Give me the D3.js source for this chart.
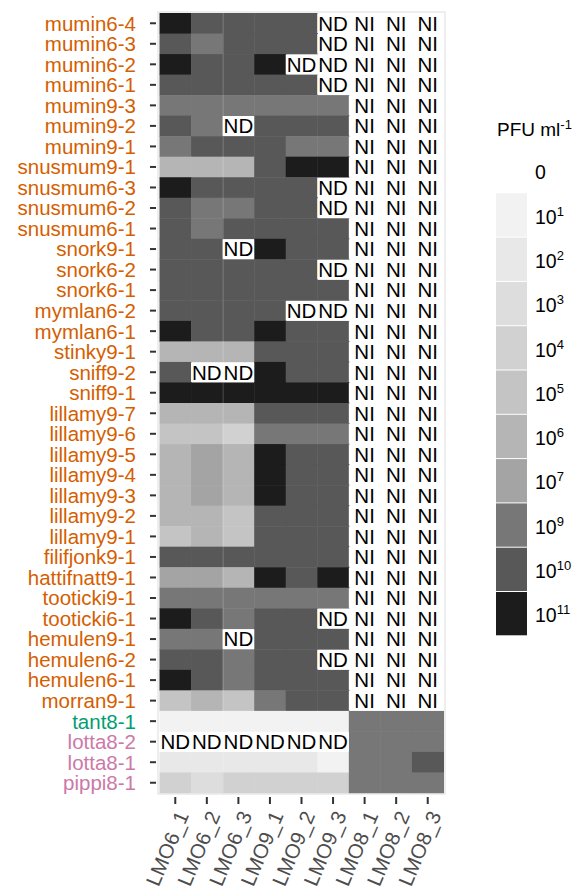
<!DOCTYPE html>
<html><head><meta charset="utf-8">
<script src="https://cdn.jsdelivr.net/npm/d3@7"></script>
<style>
html,body{margin:0;padding:0;background:#fff;}
text{font-family:"Liberation Sans",Arial,Helvetica,sans-serif;}
</style></head>
<body>
<svg id="chart" width="579" height="891"></svg>
<script>
// ---------- data ----------
const strains = ["mumin6-4","mumin6-3","mumin6-2","mumin6-1","mumin9-3","mumin9-2","mumin9-1",
 "snusmum9-1","snusmum6-3","snusmum6-2","snusmum6-1","snork9-1","snork6-2","snork6-1",
 "mymlan6-2","mymlan6-1","stinky9-1","sniff9-2","sniff9-1","lillamy9-7","lillamy9-6",
 "lillamy9-5","lillamy9-4","lillamy9-3","lillamy9-2","lillamy9-1","filifjonk9-1",
 "hattifnatt9-1","tooticki9-1","tooticki6-1","hemulen9-1","hemulen6-2","hemulen6-1",
 "morran9-1","tant8-1","lotta8-2","lotta8-1","pippi8-1"];
const samples = ["LMO6_1","LMO6_2","LMO6_3","LMO9_1","LMO9_2","LMO9_3","LMO8_1","LMO8_2","LMO8_3"];
// values = exponent of PFU ml-1 (log10), ND = not detected, NI = not infective
const lmo6 = [
 ["11","10","10"],["10","9","10"],["11","10","10"],["10","10","10"],["9","9","9"],
 ["10","9","ND"],["9","10","10"],["6","6","6"],["11","10","10"],["10","9","9"],
 ["10","9","10"],["10","10","ND"],["10","10","10"],["10","10","10"],["10","10","10"],
 ["11","10","10"],["6","6","6"],["10","ND","ND"],["11","11","11"],["6","6","6"],
 ["5","5","4"],["6","7","6"],["6","7","6"],["6","7","6"],["6","6","5"],["5","6","5"],
 ["10","10","10"],["7","7","6"],["9","9","9"],["11","10","9"],["9","9","ND"],
 ["10","10","9"],["11","10","9"],["5","6","5"],["1","1","1"],["ND","ND","ND"],
 ["2","2","2"],["4","3","4"]];
const lmo9 = [
 ["10","10","ND"],["10","10","ND"],["11","ND","ND"],["10","10","ND"],["9","9","9"],
 ["10","10","10"],["10","9","9"],["10","11","11"],["10","10","ND"],["10","10","ND"],
 ["10","10","10"],["11","10","10"],["10","10","ND"],["10","10","10"],["10","ND","ND"],
 ["11","10","10"],["10","10","10"],["11","10","10"],["11","11","11"],["10","10","10"],
 ["9","9","9"],["11","10","10"],["11","10","10"],["11","10","10"],["10","10","10"],
 ["10","10","10"],["10","10","10"],["11","10","11"],["9","9","9"],["10","10","ND"],
 ["10","10","10"],["10","10","ND"],["10","10","10"],["9","10","10"],["1","1","1"],
 ["ND","ND","ND"],["2","2","1"],["4","4","4"]];
const lmo8 = [
 ...Array.from({length:34}, () => ["NI","NI","NI"]),
 ["9","9","9"],["9","9","9"],["9","9","10"],["9","9","9"]];
const legendLevels = ["0","1","2","3","4","5","6","7","9","10","11"];
const legendColors = ["#ffffff","#f2f2f2","#e8e8e8","#dddddd","#d1d1d1","#c4c4c4","#b5b5b5","#a4a4a4","#777777","#585858","#1c1c1c"];
const labelGroupColor = {default:"#D55E00", tant:"#009E73", lotta:"#CC79A7", pippi:"#CC79A7"};

// ---------- build ----------
const cells = [];
strains.forEach((s,i) => {
  const row = [...lmo6[i], ...lmo9[i], ...lmo8[i]];
  row.forEach((v,j) => cells.push({strain:s, sample:samples[j], value:v}));
});

const svg = d3.select("#chart");
const P = {left:159.5, right:443.5, top:13, bottom:793};
const x = d3.scaleBand().domain(samples).range([P.left,P.right]).padding(0);
const y = d3.scaleBand().domain(strains).range([P.top,P.bottom]).padding(0);
const fill = d3.scaleOrdinal().domain(legendLevels).range(legendColors);

// panel background
svg.append("rect").attr("x",P.left-1.5).attr("y",P.top-1).attr("width",P.right-P.left+3).attr("height",P.bottom-P.top+2)
  .attr("fill","#fff");

// grid lines (mostly hidden)
svg.append("g").selectAll("line").data(strains).join("line")
  .attr("x1",P.left).attr("x2",P.right).attr("y1",d=>y(d)+y.bandwidth()/2).attr("y2",d=>y(d)+y.bandwidth()/2)
  .attr("stroke","#ebebeb").attr("stroke-width",1);

// tiles
svg.append("g").selectAll("rect").data(cells.filter(c=>c.value!=="NI" && c.value!=="ND")).join("rect")
  .attr("x",d=>x(d.sample)).attr("y",d=>y(d.strain))
  .attr("width",x.bandwidth()+0.5).attr("height",y.bandwidth()+0.5)
  .attr("fill",d=>fill(d.value));

// seam
svg.append("line").attr("x1",x("LMO6_3")+0.5).attr("x2",x("LMO6_3")+0.5).attr("y1",P.top).attr("y2",P.bottom)
  .attr("stroke","rgba(255,255,255,0.22)").attr("stroke-width",1);

// panel border
svg.append("rect").attr("x",P.left-1.5).attr("y",P.top-1).attr("width",P.right-P.left+3).attr("height",P.bottom-P.top+2)
  .attr("fill","none").attr("stroke","#e3e3e3").attr("stroke-width",1.2);

// ND / NI labels
const lab = svg.append("g").selectAll("g").data(cells.filter(c=>c.value==="NI"||c.value==="ND")).join("g")
  .attr("transform",d=>`translate(${x(d.sample)+x.bandwidth()/2},${y(d.strain)+y.bandwidth()/2})`);
lab.append("rect").attr("x",-x.bandwidth()/2).attr("y",-y.bandwidth()/2+0.5)
  .attr("width",x.bandwidth()).attr("height",y.bandwidth()-1).attr("fill","#fff");
lab.append("text").attr("text-anchor","middle").attr("dy","0.36em")
  .attr("font-size","20.5px").attr("fill","#000").text(d=>d.value);

// y axis
const yAxis = svg.append("g");
yAxis.selectAll("line").data(strains).join("line")
  .attr("x1",150).attr("x2",156).attr("y1",d=>y(d)+y.bandwidth()/2).attr("y2",d=>y(d)+y.bandwidth()/2)
  .attr("stroke","#333").attr("stroke-width",2);
yAxis.selectAll("text").data(strains).join("text")
  .attr("x",136).attr("y",d=>y(d)+y.bandwidth()/2).attr("dy","0.36em")
  .attr("text-anchor","end").attr("font-size","20.5px")
  .attr("fill",d=>{const k=Object.keys(labelGroupColor).find(p=>d.startsWith(p)); return k?labelGroupColor[k]:labelGroupColor.default;})
  .text(d=>d);

// x axis
const xAxis = svg.append("g");
xAxis.selectAll("line").data(samples).join("line")
  .attr("x1",d=>x(d)+x.bandwidth()/2).attr("x2",d=>x(d)+x.bandwidth()/2).attr("y1",797).attr("y2",804)
  .attr("stroke","#333").attr("stroke-width",2);
xAxis.selectAll("text").data(samples).join("text")
  .attr("transform",d=>`translate(${x(d)+x.bandwidth()/2+14},${815}) rotate(-67)`)
  .attr("text-anchor","end").attr("font-size","20.5px").attr("fill","#4d4d4d")
  .text(d=>d);

// legend
const lg = svg.append("g");
const tt = lg.append("text").attr("x",497).attr("y",136).attr("font-size","19px").attr("fill","#000");
tt.append("tspan").text("PFU ml");
tt.append("tspan").attr("dy","-7").attr("font-size","13px").text("-1");
const keyH = 44.3, keyTop = 149;
legendLevels.forEach((lv,i) => {
  lg.append("rect").attr("x",496).attr("y",keyTop+i*keyH).attr("width",31).attr("height",keyH-1)
    .attr("fill",fill(lv));
  const t = lg.append("text").attr("x",535).attr("y",keyTop+i*keyH+keyH/2).attr("dy","0.42em")
    .attr("font-size","19.5px").attr("fill","#000");
  if (lv==="0") { t.text("0"); }
  else { t.append("tspan").text("10"); t.append("tspan").attr("dy","-8").attr("font-size","13px").text(lv); }
});
</script>
</body></html>
